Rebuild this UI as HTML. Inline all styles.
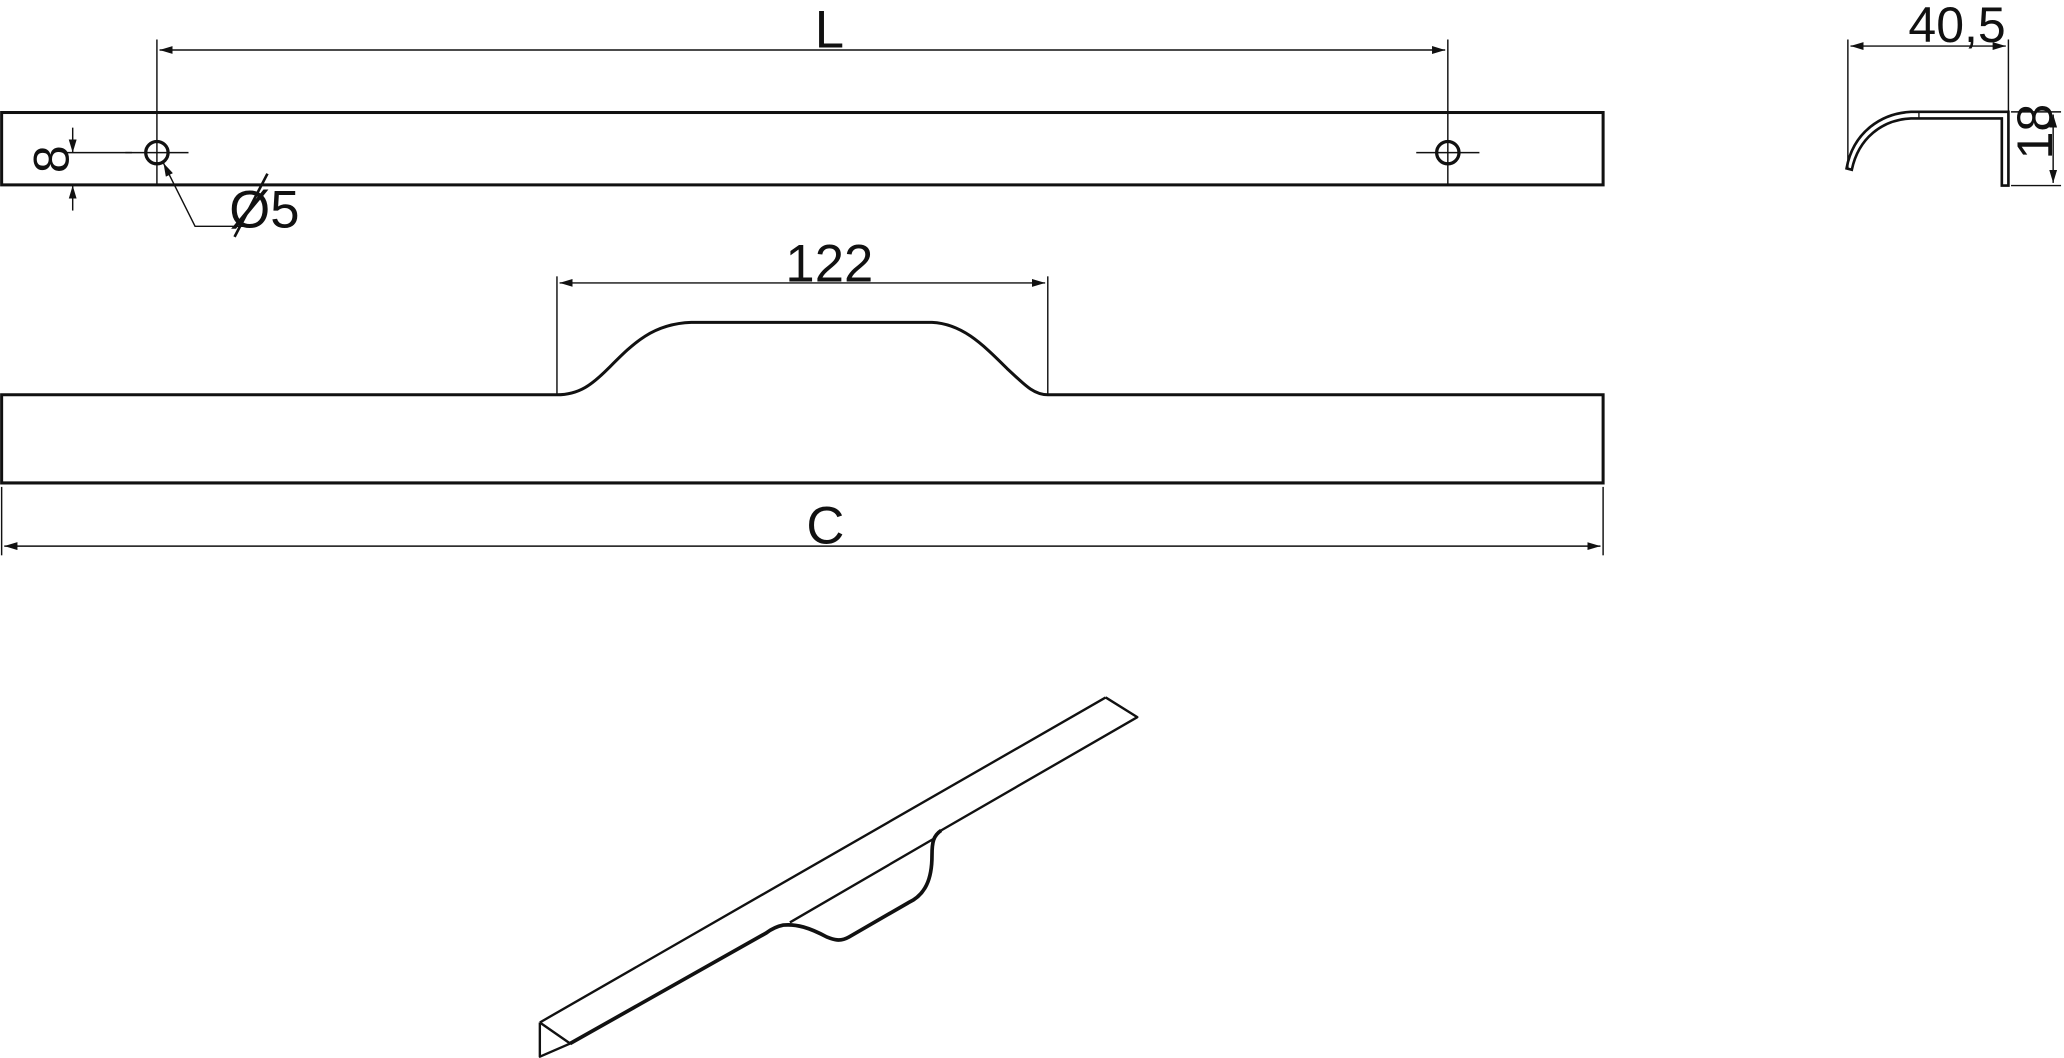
<!DOCTYPE html>
<html><head><meta charset="utf-8"><style>
html,body{margin:0;padding:0;background:#fff;}
svg{display:block;}
text{font-family:"Liberation Sans",sans-serif;fill:#111;}
</style></head><body>
<svg width="2064" height="1058" viewBox="0 0 1568 804" xmlns="http://www.w3.org/2000/svg">
<defs>
<marker id="a" viewBox="0 0 10 6" refX="10" refY="3" markerWidth="10" markerHeight="6" orient="auto-start-reverse" markerUnits="userSpaceOnUse">
<path d="M0,0 L10,3 L0,6 z" fill="#111"/></marker>
</defs>
<g stroke="#111" fill="none">
<rect x="1" y="85.5" width="1217" height="55" stroke-width="2.3"/>
<circle cx="119" cy="116" r="8.5" stroke-width="2.5"/>
<circle cx="1100" cy="116" r="8.5" stroke-width="2.5"/>
<g stroke-width="1.1">
<line x1="95" y1="116" x2="143" y2="116"/>
<line x1="1076" y1="116" x2="1124" y2="116"/>
<line x1="119" y1="30" x2="119" y2="141"/>
<line x1="1100" y1="30" x2="1100" y2="141"/>
<line x1="121" y1="38" x2="1098" y2="38" marker-start="url(#a)" marker-end="url(#a)"/>
<line x1="55" y1="97" x2="55" y2="116" marker-end="url(#a)"/>
<line x1="55" y1="160" x2="55" y2="141" marker-end="url(#a)"/>
<line x1="50" y1="116" x2="100" y2="116"/>
<polyline points="185,172 148,172 124,124" marker-end="url(#a)"/>
<line x1="178" y1="180" x2="203" y2="132" stroke-width="2"/>
</g>
<path d="M1,300 L423,300 C440,300 450,292 462,280 C480,262 495,246 525,245 L708,245 C730,246 745,260 765,280 C778,292 785,300 796,300 L1218,300 L1218,367 L1,367 Z" stroke-width="2.3"/>
<g stroke-width="1.1">
<line x1="423" y1="210" x2="423" y2="300"/>
<line x1="796" y1="210" x2="796" y2="300"/>
<line x1="425" y1="215" x2="794" y2="215" marker-start="url(#a)" marker-end="url(#a)"/>
<line x1="1" y1="370" x2="1" y2="422"/>
<line x1="1218" y1="370" x2="1218" y2="422"/>
<line x1="3" y1="415" x2="1216" y2="415" marker-start="url(#a)" marker-end="url(#a)"/>
</g>
<g stroke-width="1.1">
<line x1="1404" y1="30" x2="1404" y2="128"/>
<line x1="1526" y1="30" x2="1526" y2="85"/>
<line x1="1406" y1="35" x2="1524" y2="35" marker-start="url(#a)" marker-end="url(#a)"/>
<line x1="1528" y1="85" x2="1566" y2="85"/>
<line x1="1528" y1="141" x2="1566" y2="141"/>
<line x1="1560" y1="87" x2="1560" y2="139" marker-start="url(#a)" marker-end="url(#a)"/>
</g>
<path d="M1521,141 L1526,141 L1526,85 L1452,85 C1430,86 1408,100 1403,128 L1407,129 C1412,105 1430,91 1452,90 L1521,90 Z" stroke-width="2"/>
<line x1="1458" y1="85" x2="1458" y2="90" stroke-width="1"/>
<g stroke-width="1.8" stroke-linejoin="round">
<line x1="410" y1="777" x2="840" y2="530"/>
<polyline points="840,530 864,545 715,631"/>
<path d="M715,631 C709,635 708,640 708,650 C708,668 703,680 690,686 L645,712 C638,716 633,714 628,712 C615,705 605,702 595,703 C590,704 586,706 582,709 L433,793" stroke-width="2.8"/>
<line x1="600" y1="701" x2="710" y2="637"/>
<polyline points="410,777 433,793 410,803 410,777"/>
</g>
</g>
<text x="630" y="36" font-size="40" text-anchor="middle">L</text>
<text x="174" y="173" font-size="40">Ø5</text>
<text x="630" y="214" font-size="40" text-anchor="middle">122</text>
<text x="627" y="413" font-size="40" text-anchor="middle">C</text>
<text x="1487" y="32" font-size="38" text-anchor="middle">40,5</text>
<text transform="translate(52,121) rotate(-90)" font-size="38" text-anchor="middle">8</text>
<text transform="translate(1559,100) rotate(-90)" font-size="38" text-anchor="middle">18</text>
</svg>
</body></html>
